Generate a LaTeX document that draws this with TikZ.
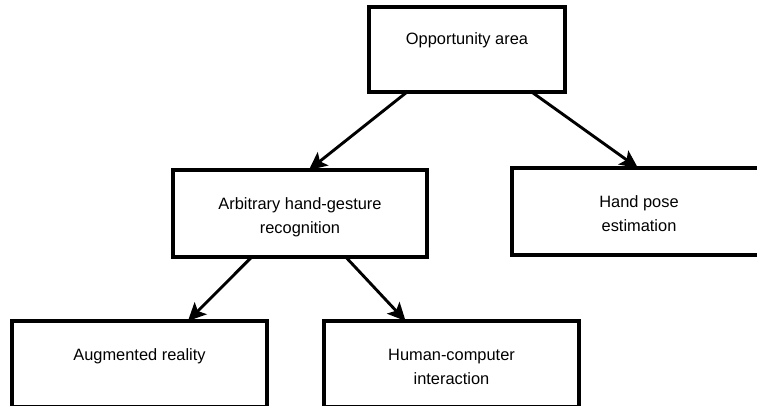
\documentclass[tikz,border=0pt]{standalone}
\usepackage{fontspec}
\setmainfont{Liberation Sans}
\usetikzlibrary{arrows.meta,calc}

\tikzset{
  box/.style={draw=black, line width=3.2pt, fill=white, rectangle,
              inner sep=0pt, outer sep=0pt},
  boxtext/.style={anchor=base, align=center, inner sep=0pt,
                  font=\fontsize{16.4}{24}\selectfont},
  link/.style={line width=2.9pt, -{Stealth[length=18pt,width=17pt,inset=4pt]}},
}

\begin{document}
\begin{tikzpicture}[x=1pt,y=-1pt]
  \useasboundingbox (0,0) rectangle (757,406);

  % boxes
  \node[box, minimum width=196pt, minimum height=85pt] (opp)  at (467,49.5) {};
  \node[box, minimum width=254pt, minimum height=87pt] (arb)  at (300,213.5) {};
  \node[box, minimum width=254pt, minimum height=87pt] (hand) at (639,211.5) {};
  \node[box, minimum width=255pt, minimum height=86pt] (aug)  at (139.5,364) {};
  \node[box, minimum width=255pt, minimum height=86pt] (hci)  at (451.5,364) {};

  % captions near the top of each box (base = baseline of the last line)
  \node[boxtext] (opptxt)  at ($(opp.north)+(0,38)$)  {Opportunity area};
  \node[boxtext] (arbtxt)  at ($(arb.north)+(0,63)$)  {Arbitrary hand-gesture\\recognition};
  \node[boxtext] (handtxt) at ($(hand.north)+(0,63)$) {Hand pose\\estimation};
  \node[boxtext] (augtxt)  at ($(aug.north)+(0,39)$)  {Augmented reality};
  \node[boxtext] (hcitxt)  at ($(hci.north)+(0,63)$)  {Human-computer\\interaction};

  % connectors
  \draw[link] ($(opp.south west)!0.194!(opp.south east)$) -- ($(arb.north west)!0.535!(arb.north east)$);
  \draw[link] ($(opp.south west)!0.83!(opp.south east)$)  -- ($(hand.north west)!0.496!(hand.north east)$);
  \draw[link] ($(arb.south west)!0.31!(arb.south east)$)  -- ($(aug.north west)!0.69!(aug.north east)$);
  \draw[link] ($(arb.south west)!0.68!(arb.south east)$)  -- ($(hci.north west)!0.32!(hci.north east)$);
\end{tikzpicture}
\end{document}
